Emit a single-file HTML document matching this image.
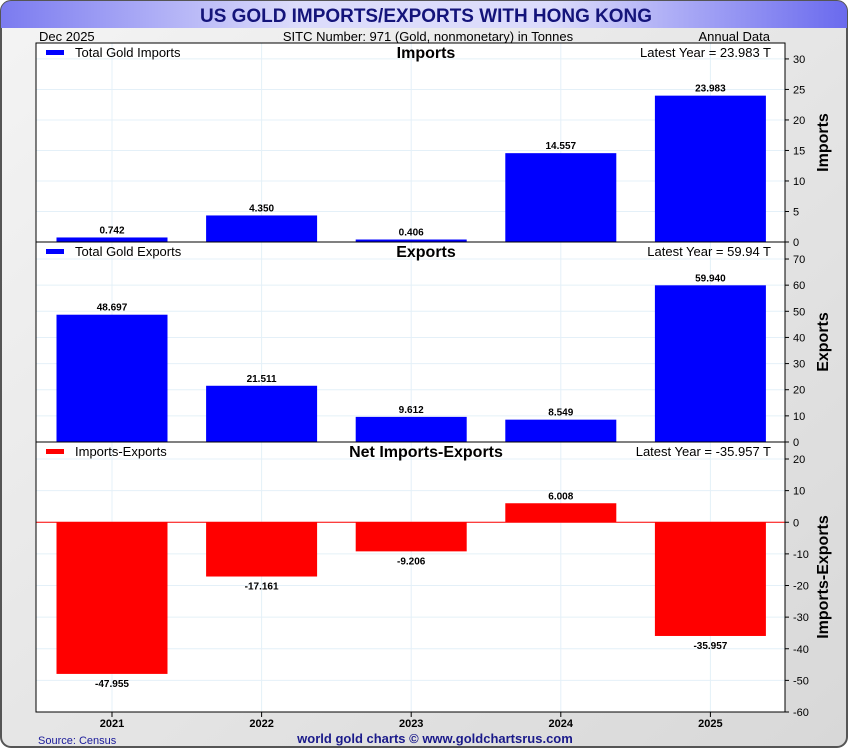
<!DOCTYPE html>
<html><head><meta charset="utf-8"><style>
body{margin:0;width:850px;height:750px;overflow:hidden;font-family:"Liberation Sans",sans-serif;background:#fff}
</style></head><body>
<svg width="850" height="750" viewBox="0 0 850 750" xmlns="http://www.w3.org/2000/svg" font-family="Liberation Sans, sans-serif">
<defs>
<linearGradient id="bg" x1="0" y1="0" x2="1" y2="1"><stop offset="0" stop-color="#f4f4f4"/><stop offset="1" stop-color="#d8d8d8"/></linearGradient>
<linearGradient id="tb" x1="0" y1="0" x2="1" y2="0"><stop offset="0" stop-color="#7b7bf0"/><stop offset="0.35" stop-color="#dcdcfb"/><stop offset="0.65" stop-color="#dcdcfb"/><stop offset="1" stop-color="#6a6aee"/></linearGradient>
</defs>
<rect x="1" y="1" width="846" height="746" rx="10" fill="url(#bg)" stroke="#555" stroke-width="2"/>
<path d="M1 28 V11 a10 10 0 0 1 10 -10 H837 a10 10 0 0 1 10 10 V28 Z" fill="url(#tb)"/>
<text x="426" y="22" text-anchor="middle" font-size="19" font-weight="bold" fill="#14147a" textLength="452" lengthAdjust="spacingAndGlyphs">US GOLD IMPORTS/EXPORTS WITH HONG KONG</text>
<text x="39" y="41" font-size="13" fill="#000">Dec  2025</text>
<text x="428" y="41" text-anchor="middle" font-size="13">SITC Number: 971 (Gold, nonmonetary) in Tonnes</text>
<text x="770" y="41" text-anchor="end" font-size="13">Annual Data</text>
<rect x="36" y="43" width="749" height="669" fill="#fff"/>
<g id="g"></g>
<text x="38" y="744" font-size="11" fill="#1a1a9a">Source: Census</text>
<text x="435" y="743" text-anchor="middle" font-size="13" font-weight="bold" fill="#1a1a8a">world gold charts © www.goldchartsrus.com</text>
</svg>
<script>
const years=["2021","2022","2023","2024","2025"];
const imports=[0.742,4.350,0.406,14.557,23.983];
const exportsV=[48.697,21.511,9.612,8.549,59.940];
const net=[-47.955,-17.161,-9.206,6.008,-35.957];
const impTicks=[0,5,10,15,20,25,30];
const expTicks=[0,10,20,30,40,50,60,70];
const netTicks=[-60,-50,-40,-30,-20,-10,0,10,20];
const NS="http://www.w3.org/2000/svg";
const g=document.getElementById('g');
function mk(t,a,p){const e=document.createElementNS(NS,t);for(const k in a)e.setAttribute(k,a[k]);(p||g).appendChild(e);return e;}
const L=36,R=785,step=149.6,bw=111;
const xc=i=>L+76+i*step;
const panels=[
 {top:43,bot:242,min:0,max:30*1.087,vals:imports,ticks:impTicks,title:"Imports",legend:"Total Gold Imports",latest:"Latest Year = 23.983 T",color:"#0000ff",ylab:"Imports",name:"imports"},
 {top:242,bot:442,min:0,max:70*1.093,vals:exportsV,ticks:expTicks,title:"Exports",legend:"Total Gold Exports",latest:"Latest Year = 59.94 T",color:"#0000ff",ylab:"Exports",name:"exports"},
 {top:442,bot:712,min:-60,max:20+80*0.0672,vals:net,ticks:netTicks,title:"Net Imports-Exports",legend:"Imports-Exports",latest:"Latest Year = -35.957 T",color:"#ff0000",ylab:"Imports-Exports",name:"net"}
];
panels.forEach(p=>{
 const y=v=>p.bot-(v-p.min)/(p.max-p.min)*(p.bot-p.top);
 p.ticks.forEach(t=>{
  let l=mk('line',{x1:L,x2:R,y1:y(t),y2:y(t),stroke:'#e4f0f8','stroke-width':1});
  
  
  let k=mk('line',{x1:R,x2:R+4,y1:y(t),y2:y(t),stroke:'#000'});
  
  
  let tx=mk('text',{x:R+8,y:y(t)+4,'font-size':11});
  tx.textContent=t;
  
  
 });
 years.forEach((yr,i)=>{
  let l=mk('line',{x1:xc(i),x2:xc(i),y1:p.top,y2:p.bot,stroke:'#e4f0f8'});
  
  
 });
 p.vals.forEach((v,i)=>{
  const y0=y(0),y1=y(v);
  let r=mk('rect',{x:xc(i)-bw/2,y:Math.min(y0,y1),width:bw,height:Math.abs(y1-y0),fill:p.color});
  
  
  let t=mk('text',{x:xc(i),y:v>=0?y1-4:y1+13,'text-anchor':'middle','font-size':10,'font-weight':'bold'});
  t.textContent=v.toFixed(3);
  
  
 });
 if(p.min<0){let z=mk('line',{x1:L,x2:R,y1:y(0),y2:y(0),stroke:'#ff0000'});
  
  }
 let fr=mk('rect',{x:L,y:p.top,width:R-L,height:p.bot-p.top,fill:'none',stroke:'#000'});
 
 
 let lg=mk('rect',{x:46,y:p.top+7,width:18,height:5,fill:p.color});
 
 
 let lt=mk('text',{x:75,y:p.top+14,'font-size':13});
 lt.textContent=p.legend;
 
 
 let tt=mk('text',{x:426,y:p.top+15,'text-anchor':'middle','font-size':16,'font-weight':'bold'});
 tt.textContent=p.title;
 
 
 let la=mk('text',{x:771,y:p.top+14,'text-anchor':'end','font-size':13});
 la.textContent=p.latest;
 
 
 const cy=(p.top+p.bot)/2;
 let yl=mk('text',{x:828,y:cy,'text-anchor':'middle','font-size':16,'font-weight':'bold',transform:'rotate(-90 828 '+cy+')'});
 yl.textContent=p.ylab;
 
 
});
years.forEach((yr,i)=>{
 let k=mk('line',{x1:xc(i),x2:xc(i),y1:712,y2:717,stroke:'#000'});
 
 
 let t=mk('text',{x:xc(i),y:727,'text-anchor':'middle','font-size':11,'font-weight':'bold'});
 t.textContent=yr;
 
 
});
</script>
</body></html>
